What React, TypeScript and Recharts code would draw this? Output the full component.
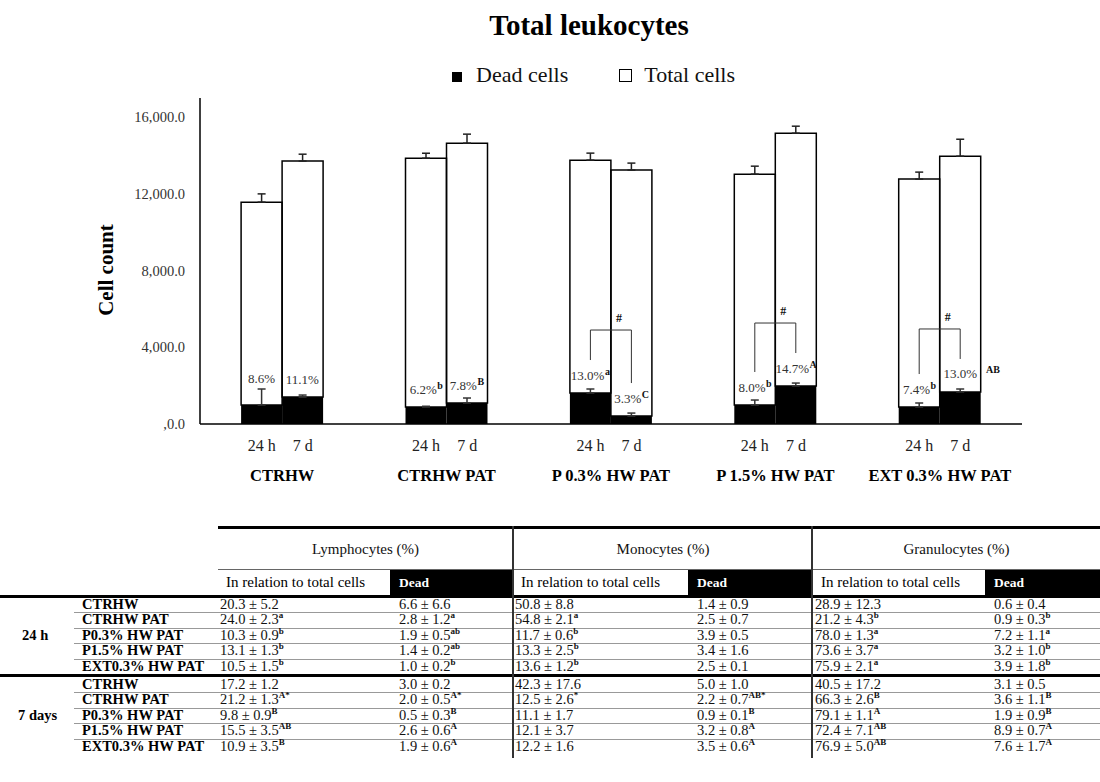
import { Bar, BarChart, ErrorBar, Label, LabelList, XAxis, YAxis } from 'recharts'

const FONT = '"Liberation Serif", "Times New Roman", serif'

// treatment groups on the x axis
const groups = ['CTRHW', 'CTRHW PAT', 'P 0.3% HW PAT', 'P 1.5% HW PAT', 'EXT 0.3% HW PAT']

// total leukocyte counts (mean and upper error) after 24 h and 7 d
const total24 = [11570, 13860, 13760, 13030, 12770]
const total24Err = [430, 260, 365, 415, 365]
const total7 = [13710, 14645, 13240, 15165, 13965]
const total7Err = [360, 470, 365, 365, 885]

// dead cells
const dead24 = [990, 885, 1615, 990, 885]
const dead24Err = [835, 40, 210, 260, 210]
const dead7 = [1405, 1095, 415, 1980, 1670]
const dead7Err = [105, 260, 155, 155, 155]

// share of dead cells with significance letters
const pct24 = ['8.6%', '6.2%', '13.0%', '8.0%', '7.4%']
const sup24 = ['', 'b', 'a', 'b', 'b']
const pct7 = ['11.1%', '7.8%', '3.3%', '14.7%', '13.0%']
const sup7 = ['', 'B', 'C', 'A', 'AB']
// 24 h vs 7 d difference (#)
const changed = [false, false, true, true, true]

const yTicks = [0, 4000, 8000, 12000, 16000]
const yTickLabels = [',0.0', '4,000.0', '8,000.0', '12,000.0', '16,000.0']

// table below the chart
const tableRows = ['CTRHW', 'CTRHW PAT', 'P0.3% HW PAT', 'P1.5% HW PAT', 'EXT0.3% HW PAT']
const lymphAll24 = ['20.3 ± 5.2', '24.0 ± 2.3^a', '10.3 ± 0.9^b', '13.1 ± 1.3^b', '10.5 ± 1.5^b']
const lymphDead24 = ['6.6 ± 6.6', '2.8 ± 1.2^a', '1.9 ± 0.5^ab', '1.4 ± 0.2^ab', '1.0 ± 0.2^b']
const monoAll24 = ['50.8 ± 8.8', '54.8 ± 2.1^a', '11.7 ± 0.6^b', '13.3 ± 2.5^b', '13.6 ± 1.2^b']
const monoDead24 = ['1.4 ± 0.9', '2.5 ± 0.7', '3.9 ± 0.5', '3.4 ± 1.6', '2.5 ± 0.1']
const granAll24 = ['28.9 ± 12.3', '21.2 ± 4.3^b', '78.0 ± 1.3^a', '73.6 ± 3.7^a', '75.9 ± 2.1^a']
const granDead24 = ['0.6 ± 0.4', '0.9 ± 0.3^b', '7.2 ± 1.1^a', '3.2 ± 1.0^b', '3.9 ± 1.8^b']
const lymphAll7 = ['17.2 ± 1.2', '21.2 ± 1.3^A*', '9.8 ± 0.9^B', '15.5 ± 3.5^AB', '10.9 ± 3.5^B']
const lymphDead7 = ['3.0 ± 0.2', '2.0 ± 0.5^A*', '0.5 ± 0.3^B', '2.6 ± 0.6^A', '1.9 ± 0.6^A']
const monoAll7 = ['42.3 ± 17.6', '12.5 ± 2.6^*', '11.1 ± 1.7', '12.1 ± 3.7', '12.2 ± 1.6']
const monoDead7 = ['5.0 ± 1.0', '2.2 ± 0.7^AB*', '0.9 ± 0.1^B', '3.2 ± 0.8^A', '3.5 ± 0.6^A']
const granAll7 = ['40.5 ± 17.2', '66.3 ± 2.6^B', '79.1 ± 1.1^A', '72.4 ± 7.1^AB', '76.9 ± 5.0^AB']
const granDead7 = ['3.1 ± 0.5', '3.6 ± 1.1^B', '1.9 ± 0.9^B', '8.9 ± 0.7^A', '7.6 ± 1.7^A']

const cellTypes = ['Lymphocytes (%)', 'Monocytes (%)', 'Granulocytes (%)']

// dead cells sit at the bottom of each stack, the rest of the total on top;
// error ranges are [down, up], only the upper whisker is drawn
const chartData = groups.map((name, i) => ({
	name,
	dead24: dead24[i],
	dead24Range: [0, dead24Err[i]],
	live24: total24[i] - dead24[i],
	total24Range: [0, total24Err[i]],
	dead7: dead7[i],
	dead7Range: [0, dead7Err[i]],
	live7: total7[i] - dead7[i],
	total7Range: [0, total7Err[i]],
}))

function GroupTick(props: any) {
	const { x, y, payload } = props
	const shift = (payload?.offset ?? 82.2) / 4
	return (
		<g fontFamily={FONT}>
			<text x={x - shift} y={y + 27} textAnchor='middle' fontSize={16} fill='#222'>
				24 h
			</text>
			<text x={x + shift} y={y + 27} textAnchor='middle' fontSize={16} fill='#222'>
				7 d
			</text>
			<text x={x} y={y + 57} textAnchor='middle' fontSize={16.5} fontWeight='bold' fill='#000'>
				{payload.value}
			</text>
		</g>
	)
}

function rectOf(props: any) {
	const vb = props.viewBox ?? {}
	return {
		x: Number(props.x ?? vb.x),
		y: Number(props.y ?? vb.y),
		width: Number(props.width ?? vb.width),
		height: Number(props.height ?? vb.height),
	}
}

// rough advance widths for the percentage labels
const PCT_SIZE = 13
const SUP_SIZE = 10
const pctWidth = (s: string) =>
	[...s].reduce((w, c) => w + (c === '.' ? 0.25 : c === '%' ? 0.833 : 0.5), 0) * PCT_SIZE
const supWidth = (s: string) => [...s].reduce((w, c) => w + (c === c.toUpperCase() ? 0.72 : 0.55), 0) * SUP_SIZE

// label centre: clear of the whisker and of the bar top
const labelMid = (top: number, errTop: number) => Math.min(errTop - 11, top - 18)

function PctText({ cx, mid, text, sup }: { cx: number; mid: number; text: string; sup: string }) {
	const w = pctWidth(text)
	// one letter stays with the value; a pair is pushed outside the bar
	const start = sup.length > 1 ? cx - w / 2 : cx - (w + supWidth(sup)) / 2
	const supX = start + w + (sup.length > 1 ? 9 : 0.5)
	return (
		<g fontFamily={FONT}>
			<text x={start} y={mid + 4.5} fontSize={PCT_SIZE} fill='#333'>
				{text}
			</text>
			{sup && (
				<text x={supX} y={mid - 0.5} fontSize={SUP_SIZE} fontWeight='bold' fill='#111'>
					{sup}
				</text>
			)}
		</g>
	)
}

function Label24(props: any) {
	const i = groups.indexOf(props.value)
	if (i < 0) return null
	const r = rectOf(props)
	const k = r.height / dead24[i]
	const mid = labelMid(r.y, r.y - dead24Err[i] * k)
	return <PctText cx={r.x + r.width / 2} mid={mid} text={pct24[i]} sup={sup24[i]} />
}

// 7 d label plus the # bracket linking it to the 24 h bar on its left
function Label7(props: any) {
	const i = groups.indexOf(props.value)
	if (i < 0) return null
	const r = rectOf(props)
	const cx = r.x + r.width / 2
	const leftCx = r.x - r.width / 2
	const base = r.y + r.height
	const k = r.height / dead7[i]
	const top24 = base - dead24[i] * k
	const mid7 = labelMid(r.y, r.y - dead7Err[i] * k)
	const mid24 = labelMid(top24, top24 - dead24Err[i] * k)
	let bracket = null
	if (changed[i]) {
		const leg24 = mid24 - 15
		const leg7 = mid7 - 15
		const bar = Math.min(leg24, leg7) - 30
		bracket = (
			<g>
				<polyline
					points={`${leftCx},${leg24} ${leftCx},${bar} ${cx},${bar} ${cx},${leg7}`}
					fill='none'
					stroke='#333'
					strokeWidth={1}
				/>
				<text x={(leftCx + cx) / 2 + 8} y={bar - 8} textAnchor='middle' fontSize={12} fontWeight='bold' fill='#111' fontFamily={FONT}>
					#
				</text>
			</g>
		)
	}
	return (
		<g>
			{bracket}
			<PctText cx={cx} mid={mid7} text={pct7[i]} sup={sup7[i]} />
		</g>
	)
}

function Cell({ text, color = '#111' }: { text: string; color?: string }) {
	const [main, sup] = text.split('^')
	return (
		<span style={{ color }}>
			{main}
			{sup && <sup style={{ fontSize: 9, lineHeight: 0, fontWeight: 'bold' }}>{sup}</sup>}
		</span>
	)
}

const ROW_H = 15.4
const blockTops = [597, 677]
const boxLeft = [218, 390, 513, 688, 813, 985]

function StatsTable() {
	const blocks = [
		{ name: '24 h', cols: [lymphAll24, lymphDead24, monoAll24, monoDead24, granAll24, granDead24] },
		{ name: '7 days', cols: [lymphAll7, lymphDead7, monoAll7, monoDead7, granAll7, granDead7] },
	]
	const abs = (s: any) => ({ position: 'absolute' as const, ...s })
	return (
		<div style={abs({ left: 0, top: 0, width: 1100, height: 782, fontFamily: FONT, fontSize: 14.5 })}>
			{/* header */}
			<div style={abs({ left: 218, top: 526, width: 882, height: 3, background: '#000' })} />
			<div style={abs({ left: 218, top: 569, width: 882, height: 1, background: '#666' })} />
			{cellTypes.map((t, c) => (
				<div
					key={t}
					style={abs({
						left: boxLeft[c * 2],
						top: 529,
						width: (boxLeft[c * 2 + 2] ?? 1100) - boxLeft[c * 2],
						height: 40,
						lineHeight: '40px',
						textAlign: 'center',
						fontSize: 15,
						color: '#111',
					})}
				>
					{t}
				</div>
			))}
			{boxLeft.map((l, c) => {
				const dead = c % 2 === 1
				return (
					<div
						key={c}
						style={abs({
							left: l,
							top: 570,
							width: (boxLeft[c + 1] ?? 1100) - l,
							height: 25,
							lineHeight: '25px',
							paddingLeft: dead ? 9 : 8,
							boxSizing: 'border-box',
							background: dead ? '#000' : '#fff',
							color: dead ? '#fff' : '#000',
							fontWeight: dead ? 'bold' : 'normal',
							fontSize: dead ? 13.5 : 15,
						})}
					>
						{dead ? 'Dead' : 'In relation to total cells'}
					</div>
				)
			})}
			<div style={abs({ left: 0, top: 595, width: 1100, height: 3, background: '#000' })} />
			<div style={abs({ left: 0, top: 674, width: 1100, height: 3, background: '#000' })} />
			{blocks.map((b, bi) => (
				<div key={b.name}>
					<div
						style={abs({
							left: 0,
							top: blockTops[bi] + ROW_H * 2,
							width: 74,
							height: ROW_H,
							lineHeight: `${ROW_H}px`,
							paddingLeft: bi === 0 ? 22 : 18,
							boxSizing: 'border-box',
							fontWeight: 'bold',
						})}
					>
						{b.name}
					</div>
					{tableRows.map((row, ri) => {
						const top = blockTops[bi] + ri * ROW_H
						return (
							<div key={row}>
								{ri < tableRows.length - 1 && (
									<div style={abs({ left: 74, top: top + ROW_H, width: 1026, height: 1, background: '#999' })} />
								)}
								<div style={abs({ left: 82, top, height: ROW_H, lineHeight: `${ROW_H}px`, fontWeight: 'bold' })}>
									{row}
								</div>
								{b.cols.map((col, c) => (
									<div
										key={c}
										style={abs({
											left: boxLeft[c] + (c % 2 === 1 ? 9 : 2),
											top,
											height: ROW_H,
											lineHeight: `${ROW_H}px`,
											whiteSpace: 'nowrap',
										})}
									>
										<Cell text={col[ri]} />
									</div>
								))}
							</div>
						)
					})}
				</div>
			))}
			<div style={abs({ left: 512, top: 526, width: 2, height: 232, background: '#333' })} />
			<div style={abs({ left: 811, top: 526, width: 2, height: 232, background: '#333' })} />
		</div>
	)
}

export default function App() {
	return (
		<div style={{ position: 'absolute', left: 0, top: 0, width: 1100, height: 782, background: '#fff', fontFamily: FONT }}>
			<div style={{ position: 'absolute', left: 389, top: 8, width: 400, textAlign: 'center', fontSize: 29, fontWeight: 'bold', lineHeight: '34px' }}>
				Total leukocytes
			</div>
			<div style={{ position: 'absolute', left: 452, top: 62, fontSize: 22, lineHeight: '26px', whiteSpace: 'nowrap', color: '#111' }}>
				<span style={{ display: 'inline-block', width: 10, height: 10, background: '#000', marginRight: 14 }} />
				Dead cells
				<span style={{ display: 'inline-block', width: 51 }} />
				<span style={{ display: 'inline-block', width: 11, height: 11, border: '1px solid #000', marginRight: 12 }} />
				Total cells
			</div>
			<div style={{ position: 'absolute', left: 0, top: 0 }}>
				<BarChart
					width={1100}
					height={500}
					data={chartData}
					margin={{ top: 98, right: 78, bottom: 0, left: 0 }}
					barCategoryGap='25%'
					barGap={0}
				>
					<XAxis
						dataKey='name'
						interval={0}
						tickLine={false}
						tickSize={0}
						tickMargin={0}
						height={76}
						axisLine={{ stroke: '#000', strokeWidth: 1.5 }}
						tick={<GroupTick />}
					/>
					<YAxis
						width={200}
						domain={[0, 17000]}
						ticks={yTicks}
						tickFormatter={(v: number) => yTickLabels[yTicks.indexOf(v)]}
						tickLine={false}
						tickSize={0}
						tickMargin={15}
						axisLine={{ stroke: '#000', strokeWidth: 1.5 }}
						tick={{ fontSize: 14.5, fill: '#333', fontFamily: FONT }}
					>
						<Label
							content={(p: any) => {
								const vb = p.viewBox ?? { x: 0, y: 98, width: 200, height: 326 }
								const cx = vb.x + vb.width / 2 + 6
								const cy = vb.y + vb.height / 2 + 9
								return (
									<text
										x={cx}
										y={cy}
										transform={`rotate(-90, ${cx}, ${cy})`}
										textAnchor='middle'
										dominantBaseline='central'
										fontSize={21}
										fontWeight='bold'
										fill='#000'
										fontFamily={FONT}
									>
										Cell count
									</text>
								)
							}}
						/>
					</YAxis>
					<Bar dataKey='dead24' stackId='h24' name='Dead cells' fill='#000' isAnimationActive={false}>
						<ErrorBar dataKey='dead24Range' width={4} stroke='#333' strokeWidth={1.5} />
						<LabelList dataKey='name' content={Label24} />
					</Bar>
					<Bar dataKey='live24' stackId='h24' name='Total cells' fill='none' stroke='#000' strokeWidth={1.5} isAnimationActive={false}>
						<ErrorBar dataKey='total24Range' width={4} stroke='#222' strokeWidth={1.5} />
					</Bar>
					<Bar dataKey='dead7' stackId='d7' name='Dead cells' fill='#000' isAnimationActive={false}>
						<ErrorBar dataKey='dead7Range' width={4} stroke='#333' strokeWidth={1.5} />
						<LabelList dataKey='name' content={Label7} />
					</Bar>
					<Bar dataKey='live7' stackId='d7' name='Total cells' fill='none' stroke='#000' strokeWidth={1.5} isAnimationActive={false}>
						<ErrorBar dataKey='total7Range' width={4} stroke='#222' strokeWidth={1.5} />
					</Bar>
				</BarChart>
			</div>
			<StatsTable />
		</div>
	)
}
